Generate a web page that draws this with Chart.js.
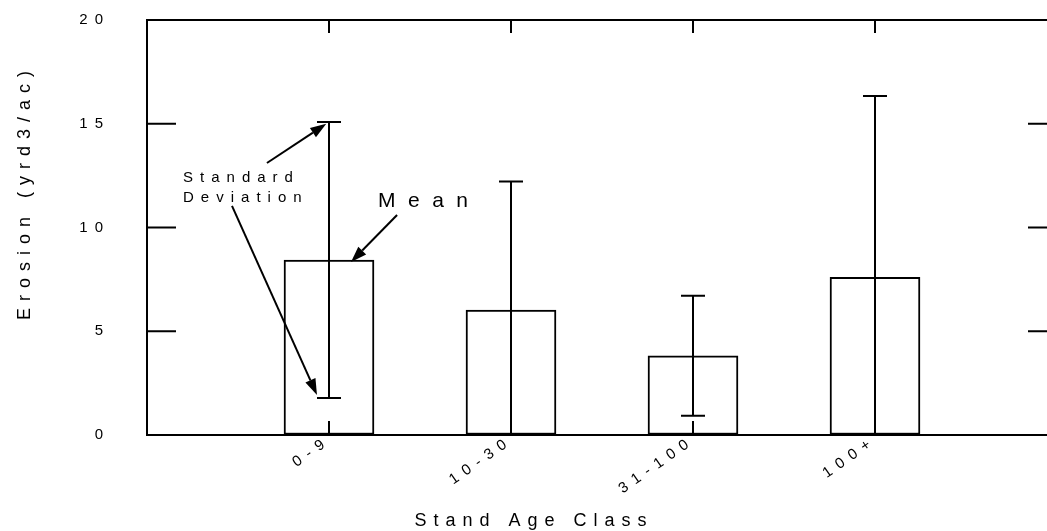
<!DOCTYPE html>
<html><head><meta charset="utf-8">
<script src="https://cdn.jsdelivr.net/npm/chart.js@4.4.1/dist/chart.umd.min.js"></script>
<style>
html,body{margin:0;padding:0;overflow:hidden;background:#fff}
#wrap{position:relative;width:1100px;height:531px}
</style>
</head><body><div id="wrap"><canvas id="c"></canvas></div>
<script>
// ---- data ----
const categories = ['0-9', '10-30', '31-100', '100+'];
const meanErosion = [8.43, 6.02, 3.82, 7.6];
const stdDeviation = [6.65, 6.2, 2.89, 8.74];
const yTickValues = [0, 5, 10, 15, 20];
const xTitle = 'Stand Age Class';
const yTitle = 'Erosion (yrd3/ac)';

// ---- annotation config (data coordinates) ----
const sdLabelLines = ['Standard', 'Deviation'];
const sdLabelPos = {x: 0.198, y: [12.19, 11.23]};
const meanLabel = 'Mean';
const meanLabelPos = {x: 1.269, y: 10.99};
const arrowList = [
  {from: {x: 0.659, y: 13.11}, to: {x: 0.985, y: 15.0}},
  {from: {x: 0.467, y: 11.04}, to: {x: 0.934, y: 1.93}},
  {from: {x: 1.374, y: 10.6},  to: {x: 1.121, y: 8.34}}
];

const FONT = '"Liberation Sans", Arial, Helvetica, sans-serif';
const TICK_SPACING = '7px';

function setSpacing(chart){ try { chart.ctx.letterSpacing = TICK_SPACING; } catch(e){} }

function drawArrow(ctx, x0, y0, x1, y1){
  const ang = Math.atan2(y1 - y0, x1 - x0);
  const L = 16, W = 5.5;
  const bx = x1 - L * Math.cos(ang), by = y1 - L * Math.sin(ang);
  ctx.beginPath();
  ctx.moveTo(x0, y0); ctx.lineTo(bx, by); ctx.stroke();
  ctx.beginPath();
  ctx.moveTo(x1, y1);
  ctx.lineTo(bx + W * Math.sin(ang), by - W * Math.cos(ang));
  ctx.lineTo(bx - W * Math.sin(ang), by + W * Math.cos(ang));
  ctx.closePath(); ctx.fill();
}

const decor = {
  id: 'decor',
  beforeUpdate: setSpacing,
  beforeLayout: setSpacing,
  beforeDraw: setSpacing,
  afterDatasetsDraw(chart){
    const {ctx, chartArea: a, scales: {x, y}} = chart;
    ctx.save();
    ctx.beginPath(); ctx.rect(a.left, a.top, a.right - a.left, a.bottom - a.top); ctx.clip();
    ctx.strokeStyle = '#000'; ctx.lineWidth = 2;
    categories.forEach((c, i) => {
      const px = x.getPixelForValue(i + 1);
      const hi = y.getPixelForValue(meanErosion[i] + stdDeviation[i]);
      const lo = y.getPixelForValue(meanErosion[i] - stdDeviation[i]);
      ctx.beginPath();
      ctx.moveTo(px, hi); ctx.lineTo(px, lo);
      ctx.moveTo(px - 12, hi); ctx.lineTo(px + 12, hi);
      ctx.moveTo(px - 12, lo); ctx.lineTo(px + 12, lo);
      ctx.stroke();
    });
    ctx.restore();
  },
  afterDraw(chart){
    const {ctx, chartArea: a, scales: {x, y}} = chart;
    ctx.save();
    ctx.strokeStyle = '#000'; ctx.fillStyle = '#000'; ctx.lineWidth = 2;
    // frame top/right
    ctx.beginPath();
    ctx.moveTo(a.left - 1, a.top); ctx.lineTo(a.right, a.top); ctx.lineTo(a.right, a.bottom);
    ctx.stroke();
    // inward ticks
    ctx.beginPath();
    y.ticks.forEach(t => {
      const py = y.getPixelForValue(t.value);
      ctx.moveTo(a.left, py); ctx.lineTo(a.left + 29, py);
      ctx.moveTo(a.right, py); ctx.lineTo(a.right - 29, py);
    });
    x.ticks.forEach(t => {
      if (t.value < 1 || t.value > categories.length) return;
      const px = x.getPixelForValue(t.value);
      ctx.moveTo(px, a.bottom); ctx.lineTo(px, a.bottom - 14);
      ctx.moveTo(px, a.top); ctx.lineTo(px, a.top + 13);
    });
    ctx.stroke();
    // axis titles
    ctx.letterSpacing = '7px';
    ctx.font = '18px ' + FONT;
    ctx.textAlign = 'center'; ctx.textBaseline = 'alphabetic';
    ctx.fillText(xTitle, a.left + 387, a.bottom + 91);
    ctx.save();
    ctx.translate(a.left - 122, a.top + 172);
    ctx.rotate(-Math.PI / 2);
    ctx.textBaseline = 'middle';
    ctx.fillText(yTitle, 0, 0);
    ctx.restore();
    // annotations
    ctx.textAlign = 'left'; ctx.textBaseline = 'alphabetic';
    ctx.font = '15px ' + FONT; ctx.letterSpacing = '7px';
    sdLabelLines.forEach((s, i) => {
      ctx.fillText(s, x.getPixelForValue(sdLabelPos.x), y.getPixelForValue(sdLabelPos.y[i]));
    });
    ctx.font = '21px ' + FONT; ctx.letterSpacing = '12.5px';
    ctx.fillText(meanLabel, x.getPixelForValue(meanLabelPos.x), y.getPixelForValue(meanLabelPos.y));
    ctx.lineWidth = 2;
    arrowList.forEach(ar => {
      drawArrow(ctx, x.getPixelForValue(ar.from.x), y.getPixelForValue(ar.from.y),
                     x.getPixelForValue(ar.to.x), y.getPixelForValue(ar.to.y));
    });
    ctx.restore();
  }
};

new Chart(document.getElementById('c'), {
  type: 'bar',
  data: {
    datasets: [{
      label: 'Mean erosion',
      data: categories.map((c, i) => ({x: i + 1, y: meanErosion[i]})),
      backgroundColor: '#ffffff',
      borderColor: '#000000',
      borderWidth: 2,
      borderSkipped: false,
      barThickness: 90
    }]
  },
  options: {
    responsive: true,
    maintainAspectRatio: false,
    animation: false,
    events: [],
    layout: {padding: {top: 20, right: 43, left: 0, bottom: 0}},
    plugins: {legend: {display: false}, tooltip: {enabled: false}, title: {display: false}},
    scales: {
      x: {
        type: 'linear', min: 0, max: 5, offset: false,
        grid: {display: true, offset: false, drawOnChartArea: false, drawTicks: false},
        border: {display: true, color: '#000', width: 2},
        afterFit(s){ s.height = 96; s.paddingLeft = 0; s.paddingRight = 0; },
        afterBuildTicks(s){ s.ticks = [0,1,2,3,4,5].map(v => ({value: v})); },
        ticks: {
          autoSkip: false, stepSize: 1, minRotation: 35, maxRotation: 35,
          padding: -3, color: '#000', font: {family: FONT, size: 15},
          callback: v => (v >= 1 && v <= categories.length) ? categories[v - 1] : ''
        }
      },
      y: {
        min: 0, max: 20,
        afterFit(s){ s.width = 147; s.paddingTop = 8; s.paddingBottom = 8; },
        afterBuildTicks(s){ s.ticks = yTickValues.map(v => ({value: v})); },
        grid: {display: true, drawOnChartArea: false, drawTicks: false},
        border: {display: true, color: '#000', width: 2},
        ticks: {padding: 37, color: '#000', font: {family: FONT, size: 15}}
      }
    }
  },
  plugins: [decor]
});
</script>
</body></html>
